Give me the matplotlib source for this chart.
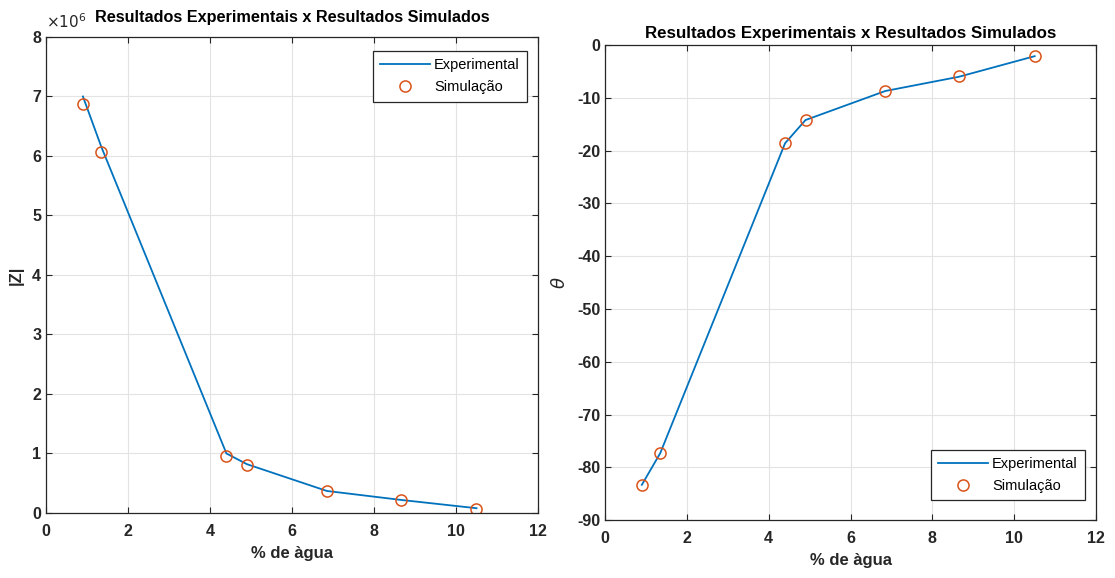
import matplotlib
matplotlib.use("Agg")
import matplotlib.pyplot as plt
from matplotlib.ticker import MultipleLocator

plt.rcParams['font.family'] = ['Liberation Sans', 'DejaVu Sans']
plt.rcParams['axes.unicode_minus'] = False

# Water content (%) at each measurement
agua = [0.9, 1.35, 4.4, 4.9, 6.85, 8.65, 10.5]

# Impedance magnitude |Z| (x 1e6 ohm)
z_exp = [7.00, 6.15, 1.00, 0.82, 0.37, 0.22, 0.08]
z_sim = [6.87, 6.07, 0.95, 0.80, 0.37, 0.21, 0.07]

# Phase angle theta (degrees)
theta_exp = [-83.3, -77.3, -18.6, -14.2, -8.7, -6.0, -2.1]
theta_sim = [-83.3, -77.3, -18.6, -14.2, -8.7, -5.9, -2.1]

titulo = "Resultados Experimentais x Resultados Simulados"
rotulo_x = "% de àgua"
leg = ["Experimental", "Simulação"]

azul = "#0072BD"
laranja = "#D95319"
escuro = "#262626"

fig = plt.figure(figsize=(11.15, 5.78), dpi=100)
ax1 = fig.add_axes([0.0413, 0.1125, 0.4412, 0.8235])
ax2 = fig.add_axes([0.5426, 0.100, 0.4404, 0.822])


def estilo(ax, tam_titulo, pad_titulo):
    ax.grid(True, color="#e3e3e3", linewidth=0.8)
    ax.set_axisbelow(True)
    ax.tick_params(direction="in", top=True, right=True, length=4,
                   labelsize=11.5, colors=escuro, width=0.8)
    ax.tick_params(axis="x", pad=8)
    for lab in ax.get_xticklabels() + ax.get_yticklabels():
        lab.set_fontweight("bold")
    for s in ax.spines.values():
        s.set_color(escuro)
        s.set_linewidth(0.9)
    ax.set_xlim(0, 12)
    ax.xaxis.set_major_locator(MultipleLocator(2))
    ax.set_xlabel(rotulo_x, fontsize=12, fontweight="bold", color=escuro, labelpad=5)
    ax.set_title(titulo, fontsize=tam_titulo, fontweight="bold", color="black",
                 pad=pad_titulo)


def legenda(ax, ancora, canto):
    lg = ax.legend(loc=canto, bbox_to_anchor=ancora, fontsize=10.5, frameon=True,
                   fancybox=False, edgecolor=escuro, framealpha=1,
                   borderaxespad=0, handlelength=3.4, handletextpad=0.3,
                   borderpad=0.5, labelspacing=0.55)
    lg.get_frame().set_linewidth(0.9)


# |Z| versus water content
ax1.plot(agua, [v * 1e6 for v in z_exp], color=azul, lw=1.3, label=leg[0])
ax1.plot(agua, [v * 1e6 for v in z_sim], "o", ms=8, mfc="none", mec=laranja,
         mew=1.1, label=leg[1])
ax1.set_ylim(0, 8e6)
ax1.yaxis.set_major_locator(MultipleLocator(1e6))
ax1.set_yticks(ax1.get_yticks())
ax1.set_yticklabels([f"{int(t / 1e6)}" for t in ax1.get_yticks()])
ax1.set_ylim(0, 8e6)
estilo(ax1, 11.7, 11)
ax1.set_ylabel("|Z|", fontsize=12, fontweight="bold", color=escuro, labelpad=6)
ax1.text(0.0, 1.012, r"$\times10^{6}$", transform=ax1.transAxes, fontsize=11,
         color=escuro, ha="left", va="bottom")
legenda(ax1, (1 - 11 / 492, 1 - 14 / 476), "upper right")

# Phase angle versus water content
ax2.plot(agua, theta_exp, color=azul, lw=1.3, label=leg[0])
ax2.plot(agua, theta_sim, "o", ms=8, mfc="none", mec=laranja, mew=1.1,
         label=leg[1])
ax2.set_ylim(-90, 0)
ax2.yaxis.set_major_locator(MultipleLocator(10))
estilo(ax2, 12.2, 5)
ax2.set_ylabel(r"$\theta$", fontsize=13, color=escuro, labelpad=6)
legenda(ax2, (1 - 11 / 491, 20 / 475), "lower right")

fig.savefig("out.png", dpi=100, facecolor="white")
